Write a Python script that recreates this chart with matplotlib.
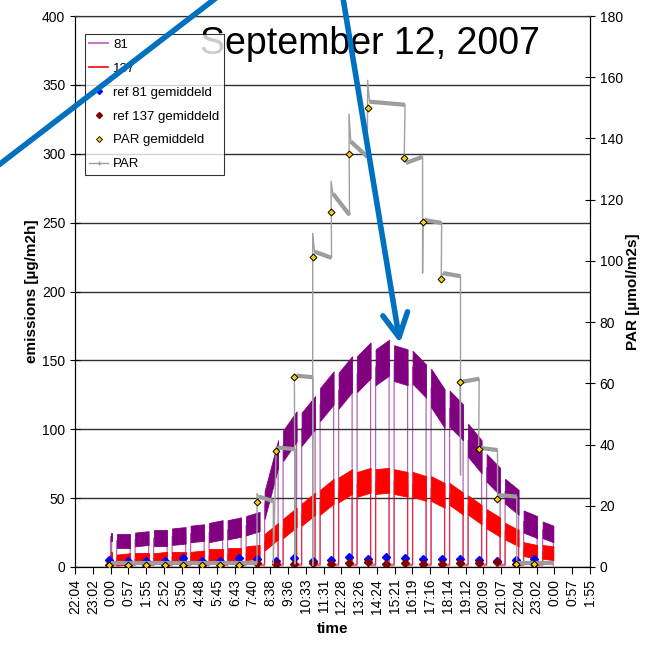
import numpy as np
import matplotlib.pyplot as plt
from matplotlib.lines import Line2D
from matplotlib.patches import FancyArrowPatch

plt.rcParams['font.family'] = ['Liberation Sans', 'DejaVu Sans']

# ---- datos (tiempo en horas desde 0:00) ----
# bloques de medicion de emisiones
blk_start = [0.00, 0.33, 1.33, 2.33, 3.33, 4.33, 5.33, 6.33, 7.33, 8.33, 9.33, 10.33, 11.33,
             12.33, 13.33, 14.33, 15.33, 16.33, 17.33, 18.33, 19.33, 20.33, 21.33, 22.33, 23.36]
blk_end = [0.06, 1.06, 2.06, 3.06, 4.06, 5.06, 6.06, 7.06, 8.06, 9.06, 10.06, 11.06, 12.06,
           13.06, 14.06, 15.06, 16.06, 17.06, 18.06, 19.06, 20.06, 21.06, 22.06, 23.06, 23.94]

# serie 81 (valor al inicio, al final y media amplitud del ruido)
e81_first = [22, 19, 20, 21, 22, 24, 25, 27, 30, 45, 88, 100, 118, 128, 140, 145, 148, 145, 130,
             115, 92, 72, 55, 33, 27]
e81_last = [22, 19, 21, 21, 23, 25, 27, 29, 33, 82, 102, 112, 130, 140, 150, 152, 145, 135, 115,
            105, 80, 62, 47, 29, 24]
e81_half = [3, 5, 5, 6, 6, 6, 7, 7, 7, 10, 11, 12, 12, 13, 13, 13, 13, 12, 14, 13, 12, 10, 9, 8, 6]

# serie 137
e137_first = [8, 5, 6, 6, 7, 7, 8, 9, 10, 18, 28, 38, 47, 56, 60, 62, 62, 60, 57, 53, 45, 35,
              26, 13, 11]
e137_last = [8, 6, 6, 7, 7, 8, 8, 9, 11, 26, 36, 46, 55, 62, 63, 63, 60, 57, 52, 46, 38, 29,
             21, 11, 10]
e137_half = [3, 4, 4, 4, 4, 4, 5, 5, 5, 6, 7, 8, 9, 9, 9, 9, 9, 9, 9, 8, 7, 7, 6, 5, 5]

gap81 = 2.0
gap137 = 1.0

# referencias promediadas
ref_t = [-0.07, 0.93, 1.93, 2.93, 3.93, 4.93, 5.93, 6.93, 7.93, 8.93, 9.93, 10.93, 11.93,
         12.90, 13.90, 14.90, 15.90, 16.90, 17.90, 18.90, 19.90, 20.90, 21.90, 22.90]
ref81 = [5.1, 4.6, 4.6, 4.6, 6.3, 4.6, 4.6, 6.3, 5.6, 4.6, 6.3, 4.6, 5.2, 7.0, 6.1, 7.0, 6.5,
         5.6, 5.6, 5.6, 5.1, 4.0, 5.1, 5.6]
ref137 = [1.5, 1.5, 1.2, 1.5, 1.8, 1.5, 1.5, 1.8, 2.7, 2.2, 2.2, 3.1, 2.5, 3.1, 3.9, 2.2, 3.1,
          2.2, 2.5, 2.7, 2.7, 3.9, 2.0, 2.0]

# PAR por escalones
par_t0 = [-0.07, 7.92, 8.96, 9.94, 10.93, 11.92, 12.89, 13.90, 15.88, 16.89, 17.88, 18.90,
          19.90, 20.90, 21.90]
par_t1 = [7.92, 8.80, 9.97, 10.93, 11.95, 12.92, 13.88, 15.92, 16.87, 17.90, 18.92, 19.93,
          20.92, 21.96, 23.95]
par_spike = [1.2, 24, 39.5, 63, 109, 126, 148, 159, 133.7, 113, 95, 61, 39, 23, 1.2]
par_first = [1.2, 23, 39, 62.5, 103, 122, 139, 152, 132, 113.3, 96, 60.5, 38.9, 23.5, 1.2]
par_last = [1.2, 21.5, 38.5, 62, 101, 115, 134, 151, 134, 112.4, 95, 61.5, 38.2, 23, 1.2]
par_drop = [1.2, 1.0, 1.0, 0.5, 101, 115, 134, 151, 96, 112.4, 30, 61.5, 22, 1.2, 1.2]

# PAR gemiddeld
pavg_t = [-0.07, 0.93, 1.93, 2.93, 3.93, 4.93, 5.93, 6.93, 7.90, 8.96, 9.94, 10.93, 11.92,
          12.89, 13.90, 15.88, 16.89, 17.88, 18.90, 19.90, 20.90, 21.90, 22.90]
pavg = [0.6, 0.6, 0.6, 0.6, 0.6, 0.6, 0.6, 0.6, 21.3, 38, 62.2, 101.4, 116, 134.9, 150, 133.7,
        112.7, 94.1, 60.5, 38.4, 22.2, 0.9, 0.9]

xlabels = ['22:04', '23:02', '0:00', '0:57', '1:55', '2:52', '3:50', '4:48', '5:45', '6:43',
           '7:40', '8:38', '9:36', '10:33', '11:31', '12:28', '13:26', '14:24', '15:21', '16:19',
           '17:16', '18:14', '19:12', '20:09', '21:07', '22:04', '23:02', '0:00', '0:57', '1:55']

purple = '#800080'
red = '#FF0000'
gray = '#A0A0A0'

fig = plt.figure(figsize=(6.48, 6.49), dpi=100)
ax = fig.add_axes([75/648, 1 - 567/649, 515/648, 551/649])
ax2 = ax.twinx()

# emisiones: bloques con la banda de ruido y lineas de caida
def dibujar_serie(first, last, half, gap, color):
    px, py = [], []
    for s, e, f, l, h in zip(blk_start, blk_end, first, last, half):
        ax.fill_between([s, e], [f - h, l - h], [f + h, l + h], color=color, lw=0.6, zorder=2)
        px += [s, s, e, e]
        py += [gap, f, l, gap]
    ax.plot(px, py, color=color, lw=0.9, alpha=0.6, zorder=2)

dibujar_serie(e81_first, e81_last, e81_half, gap81, purple)
dibujar_serie(e137_first, e137_last, e137_half, gap137, red)

ax.plot(ref_t, ref81, ls='none', marker='D', ms=4, color='#0000FF', zorder=4)
ax.plot(ref_t, ref137, ls='none', marker='D', ms=4, color='#800000', zorder=4)

# PAR en el eje secundario
qx, qy = [], []
for t0, t1, sp, f, l, d in zip(par_t0, par_t1, par_spike, par_first, par_last, par_drop):
    qx += [t0, t0 + 0.1, t1, t1]
    qy += [sp, f, l, d]
    ax2.plot([t0 + 0.1, t1], [f, l], color='#9A9A9A', lw=3, solid_capstyle='butt', zorder=3)
ax2.plot(qx, qy, color=gray, lw=1, zorder=3)
ax2.plot(pavg_t, pavg, ls='none', marker='D', ms=3.5, mfc='#FFCC00', mec='black', mew=0.7,
         zorder=5)

# ejes
ax.set_xlim(-0.08 * 24, 1.08 * 24)
ax.set_xticks(np.arange(-0.08, 1.0801, 0.04) * 24)
ax.set_xticklabels(xlabels, rotation=90, fontsize=10)
ax.set_ylim(0, 400)
ax.set_yticks(range(0, 401, 50))
ax.tick_params(axis='y', direction='inout', length=7, labelsize=10)
ax.tick_params(axis='x', direction='out', length=5)
ax.grid(axis='y', color='#303030', lw=1)
ax.set_axisbelow(True)
ax2.set_ylim(0, 180)
ax2.set_yticks(range(0, 181, 20))
ax2.tick_params(axis='y', direction='inout', length=7, labelsize=10)

for a in (ax, ax2):
    a.spines['top'].set_color('#303030')
    for lado in ('left', 'right', 'bottom'):
        a.spines[lado].set_color('black')

ax.set_ylabel('emissions [µg/m2h]', fontsize=11, fontweight='bold', labelpad=2)
ax2.set_ylabel('PAR [µmol/m2s]', fontsize=11, fontweight='bold', labelpad=2)
ax.set_xlabel('time', fontsize=11, fontweight='bold', labelpad=6)

ax2.text(0.573, 0.95, 'September 12, 2007', transform=ax2.transAxes, ha='center',
         va='center', fontsize=27, zorder=6)

# leyenda
handles = [Line2D([], [], color='#C080C0', lw=1.5),
           Line2D([], [], color=red, lw=1.2),
           Line2D([], [], ls='none', marker='D', ms=3, color='#0000FF'),
           Line2D([], [], ls='none', marker='D', ms=3, color='#800000'),
           Line2D([], [], ls='none', marker='D', ms=3, mfc='#FFCC00', mec='black', mew=0.6),
           Line2D([], [], color=gray, lw=1, marker='+', ms=3)]
nombres = ['81', '137', 'ref 81 gemiddeld', 'ref 137 gemiddeld', 'PAR gemiddeld', 'PAR']
leg = ax2.legend(handles, nombres, loc='upper left', bbox_to_anchor=(0.019, 0.967),
                 fontsize=9.5, frameon=True, fancybox=False, edgecolor='black',
                 borderpad=0.35, labelspacing=0.88, handlelength=1.4, handletextpad=0.4,
                 borderaxespad=0)
leg.get_frame().set_linewidth(0.8)
leg.set_zorder(10)

# flechas azules
azul = '#0070C0'
fig.add_artist(Line2D([0 / 648, 216 / 648], [1 - 164 / 649, 1 + 2 / 649], color=azul, lw=4,
                      transform=fig.transFigure))
flecha = FancyArrowPatch((343 / 648, 1 + 2 / 649), (400 / 648, 1 - 343 / 649),
                         transform=fig.transFigure, arrowstyle='->,head_length=17,head_width=9',
                         mutation_scale=1, color=azul, lw=4, shrinkA=0, shrinkB=0)
fig.add_artist(flecha)

fig.savefig('out.png', dpi=100)
